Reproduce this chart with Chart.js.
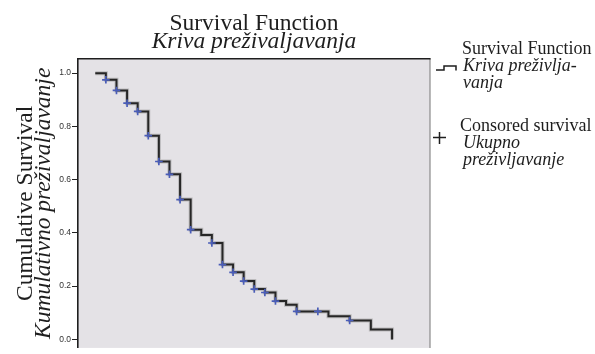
<!DOCTYPE html>
<html>
<head>
<meta charset="utf-8">
<script src="https://cdn.jsdelivr.net/npm/chart.js@4/dist/chart.umd.min.js"></script>
<style>
  html, body { margin: 0; padding: 0; background: #ffffff; }
  #wrap { width: 595px; height: 354px; position: relative; overflow: hidden; }
</style>
</head>
<body>
<div id="wrap"><canvas id="c" width="595" height="354"></canvas></div>
<script>
// ---- data ----
const stepTimes    = [0, 1, 2, 3, 4, 5, 6, 7, 8, 9, 10, 11, 12, 13, 14, 15, 16, 17, 18, 19, 22, 24, 26, 28];
const stepSurvival = [1.0, 0.975, 0.935, 0.887, 0.856, 0.765, 0.668, 0.620, 0.525, 0.412, 0.392, 0.362, 0.281, 0.252, 0.219, 0.189, 0.176, 0.144, 0.130, 0.105, 0.087, 0.071, 0.037, 0.0];
const censorTimes    = [1, 2, 3, 4, 5, 6, 7, 8, 9, 11, 12, 13, 14, 15, 16, 17, 19, 21, 24];
const censorSurvival = [0.975, 0.935, 0.887, 0.856, 0.765, 0.668, 0.620, 0.525, 0.412, 0.362, 0.281, 0.252, 0.219, 0.189, 0.176, 0.144, 0.105, 0.105, 0.071];
const yTickValues = [0.0, 0.2, 0.4, 0.6, 0.8, 1.0];
const titleText = 'Survival Function';
const subtitleText = 'Kriva preživaljavanja';
const yTitleOuter = 'Cumulative Survival';
const yTitleInner = 'Kumulativno preživaljavanje';
const legendItems = [
  { symbol: 'step',  lines: [['Survival Function', false], ['Kriva preživlja-', true], ['vanja', true]] },
  { symbol: 'cross', lines: [['Consored survival', false], ['Ukupno', true], ['preživljavanje', true]] }
];

const stepPoints = stepTimes.map((t, i) => ({ x: t, y: stepSurvival[i] }));
const censorPoints = censorTimes.map((t, i) => ({ x: t, y: censorSurvival[i] }));

const SERIF = "'Liberation Serif', 'DejaVu Serif', serif";

const plotBg = {
  id: 'plotBg',
  beforeDraw(chart) {
    const { ctx, chartArea: a } = chart;
    ctx.save();
    ctx.fillStyle = '#E4E2E6';
    ctx.fillRect(a.left, a.top, a.right - a.left, a.bottom - a.top);
    ctx.restore();
  },
  afterDraw(chart) {
    const { ctx, chartArea: a } = chart;
    ctx.save();
    // right frame (gray)
    ctx.strokeStyle = '#8a8a8a';
    ctx.lineWidth = 1.2;
    ctx.beginPath();
    ctx.moveTo(a.right, a.top);
    ctx.lineTo(a.right, a.bottom);
    ctx.stroke();
    // top frame (dark)
    ctx.strokeStyle = '#1e1e1e';
    ctx.lineWidth = 1.6;
    ctx.beginPath();
    ctx.moveTo(a.left - 0.8, a.top);
    ctx.lineTo(a.right + 0.6, a.top);
    ctx.stroke();

    // legend
    const x0 = 433;
    const tops = [53.5, 131];
    ctx.fillStyle = '#1e1e1e';
    ctx.textBaseline = 'alphabetic';
    ctx.textAlign = 'left';
    legendItems.forEach((item, k) => {
      let by = tops[k];
      item.lines.forEach((ln, j) => {
        ctx.font = (ln[1] ? 'italic ' : '') + '18px ' + SERIF;
        const lx = ln[1] ? 463 : (k === 0 ? 462 : 460);
        ctx.fillText(ln[0], lx, by + j * 17);
      });
      ctx.strokeStyle = '#1e1e1e';
      ctx.lineWidth = 1.5;
      ctx.beginPath();
      if (item.symbol === 'step') {
        ctx.moveTo(x0 + 3, 70);
        ctx.lineTo(x0 + 11, 70);
        ctx.lineTo(x0 + 11, 66);
        ctx.lineTo(x0 + 23, 66);
        ctx.lineTo(x0 + 23, 70.5);
      } else {
        ctx.moveTo(x0, 137.5);
        ctx.lineTo(x0 + 13, 137.5);
        ctx.moveTo(x0 + 6.5, 132);
        ctx.lineTo(x0 + 6.5, 144);
      }
      ctx.stroke();
    });
    ctx.restore();
  }
};

new Chart(document.getElementById('c'), {
  type: 'line',
  data: {
    datasets: [
      {
        label: 'Consored survival',
        type: 'scatter',
        data: censorPoints,
        pointStyle: 'cross',
        pointRadius: 3.8,
        pointBorderWidth: 1.7,
        pointBorderColor: '#4A5DB8',
        pointBackgroundColor: '#4A5DB8',
        showLine: false
      },
      {
        label: 'Survival Function',
        data: stepPoints,
        stepped: 'before',
        borderColor: '#262626',
        borderWidth: 2,
        pointRadius: 0,
        fill: false
      },
      {
        label: 'halo',
        data: stepPoints,
        stepped: 'before',
        borderColor: 'rgba(140,140,140,0.45)',
        borderWidth: 4,
        pointRadius: 0,
        fill: false
      }
    ]
  },
  options: {
    responsive: false,
    devicePixelRatio: 1,
    animation: false,
    events: [],
    layout: { padding: { left: 0, right: 165, top: 0, bottom: 0 } },
    plugins: {
      legend: { display: false },
      tooltip: { enabled: false },
      title: {
        display: true,
        text: titleText,
        fullSize: false,
        color: '#1e1e1e',
        font: { family: SERIF, size: 23.5, weight: 'normal', lineHeight: 0.75 },
        padding: { top: 15.5, bottom: 0 }
      },
      subtitle: {
        display: true,
        text: subtitleText,
        fullSize: false,
        color: '#1e1e1e',
        font: { family: SERIF, size: 23.5, style: 'italic', weight: 'normal', lineHeight: 0.75 },
        padding: { top: 0, bottom: 8 }
      }
    },
    scales: {
      x: {
        type: 'linear',
        display: false,
        min: -1.63,
        max: 31.58
      },
      y: {
        type: 'linear',
        position: 'left',
        weight: 0,
        min: -0.032,
        max: 1.054,
        afterBuildTicks(scale) {
          scale.ticks = yTickValues.map(v => ({ value: v }));
        },
        afterFit(scale) { scale.width = 43.8; },
        ticks: {
          callback: v => Number(v).toFixed(1),
          font: { family: "'Liberation Sans', Arial, sans-serif", size: 8.5 },
          color: '#333333',
          padding: 1
        },
        grid: {
          display: true,
          drawOnChartArea: false,
          drawTicks: true,
          tickLength: 6,
          tickColor: '#222222',
          tickWidth: 1
        },
        border: { display: true, color: '#1e1e1e', width: 1.6 },
        title: {
          display: true,
          text: yTitleInner,
          color: '#1e1e1e',
          font: { family: SERIF, size: 23.5, style: 'italic', weight: 'normal', lineHeight: 0.75 },
          padding: { top: 0.8, bottom: 0 }
        }
      },
      yOuter: {
        type: 'linear',
        axis: 'y',
        position: 'left',
        weight: 10,
        min: 0,
        max: 1,
        afterFit(scale) { scale.width = 34.2; },
        ticks: { display: false },
        grid: { display: false, drawTicks: false },
        border: { display: false },
        title: {
          display: true,
          text: yTitleOuter,
          color: '#1e1e1e',
          font: { family: SERIF, size: 23.5, weight: 'normal', lineHeight: 0.75 },
          padding: { top: 16.6, bottom: 0 }
        }
      }
    }
  },
  plugins: [plotBg]
});
</script>
</body>
</html>
